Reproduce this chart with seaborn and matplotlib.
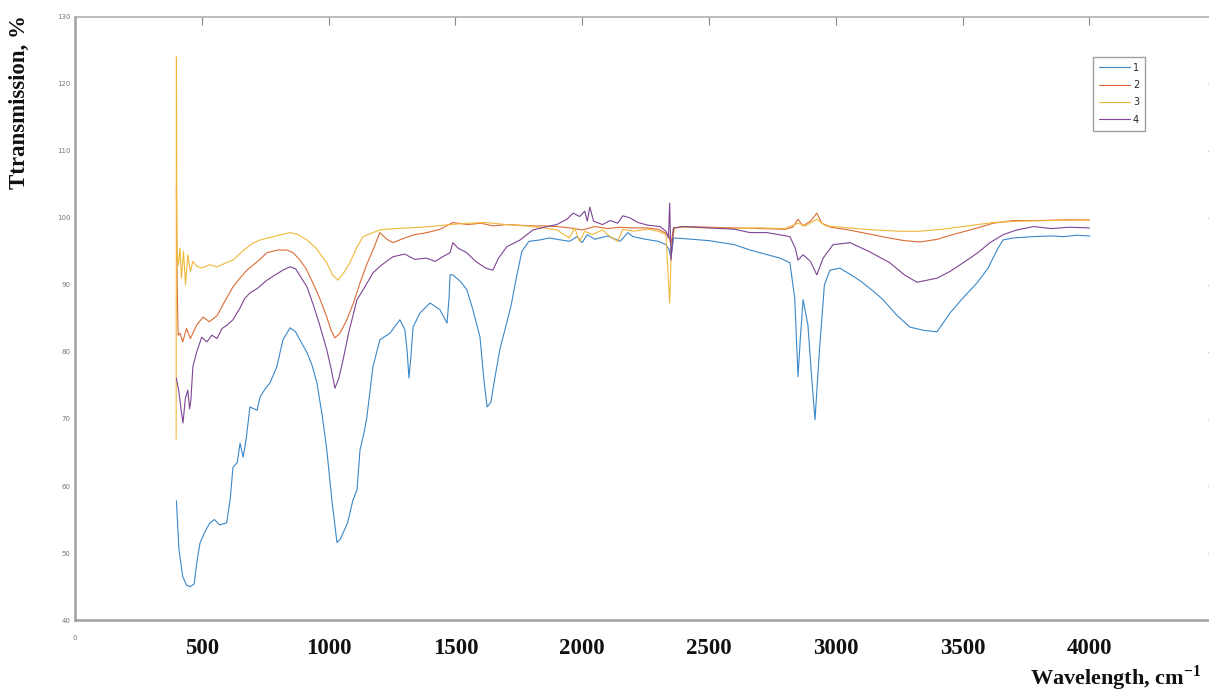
import pandas as pd
import seaborn as sns
import matplotlib.pyplot as plt

# sample 1 (blue)
wn_1 = [400, 410, 425, 440, 455, 470, 480, 493, 510, 532, 550, 570, 598, 612, 623, 640, 651, 663,
        675, 690, 718, 730, 750, 769, 796, 820, 848, 870, 887, 915, 935, 954, 975, 993, 1013, 1033,
        1045, 1057, 1075, 1096, 1112, 1124, 1140, 1151, 1175, 1202, 1242, 1281, 1301, 1310, 1317,
        1325, 1333, 1360, 1400, 1439, 1467, 1475, 1479, 1490, 1520, 1545, 1569, 1597, 1612, 1625,
        1640, 1655, 1676, 1700, 1720, 1740, 1762, 1790, 1833, 1870, 1900, 1950, 1980, 2000, 2020,
        2050, 2100, 2150, 2180, 2200, 2250, 2300, 2330, 2342, 2350, 2360, 2400, 2500, 2600, 2662,
        2720, 2780, 2819, 2838, 2851, 2860, 2871, 2890, 2905, 2918, 2935, 2955, 2977, 3016, 3060,
        3100, 3150, 3186, 3240, 3292, 3350, 3399, 3450, 3500, 3557, 3600, 3640, 3659, 3700, 3777,
        3850, 3900, 3950, 4002]
t_1 = [57.8, 50.5, 46.5, 45.2, 45.0, 45.4, 48.5, 51.5, 53.0, 54.5, 55.0, 54.2, 54.5, 58.0, 62.8, 63.5,
       66.4, 64.3, 67.0, 71.8, 71.3, 73.3, 74.5, 75.4, 77.8, 81.8, 83.6, 83.0, 81.8, 79.9, 78.0, 75.4,
       70.5, 65.4, 57.9, 51.6, 52.0, 53.0, 54.5, 57.9, 59.4, 65.4, 68.0, 70.3, 77.8, 81.8, 82.8, 84.8,
       83.3, 80.0, 76.1, 79.5, 83.7, 85.8, 87.3, 86.3, 84.3, 88.0, 91.5, 91.5, 90.5, 89.3, 86.3, 82.2,
       76.0, 71.8, 72.5, 76.0, 80.5, 84.0, 87.0, 91.0, 95.0, 96.5, 96.7, 97.0, 96.8, 96.5, 97.2, 96.3,
       97.5, 96.8, 97.3, 96.5, 97.8, 97.2, 96.8, 96.5, 96.0, 95.3, 94.0, 97.0, 96.9, 96.6, 96.0, 95.2,
       94.6, 94.0, 93.3, 88.0, 76.3, 82.0, 87.8, 84.0, 76.0, 69.9, 80.0, 90.0, 92.2, 92.5, 91.5, 90.5,
       89.0, 87.8, 85.5, 83.7, 83.2, 83.0, 85.8, 88.0, 90.3, 92.5, 95.5, 96.7, 97.0, 97.2, 97.3, 97.2,
       97.4, 97.3]

# sample 2 (orange)
wn_2 = [400, 403, 407, 414, 425, 440, 455, 465, 480, 505, 530, 560, 590, 623, 650, 678, 720, 757, 800,
        836, 860, 887, 910, 938, 965, 993, 1010, 1025, 1045, 1072, 1100, 1124, 1150, 1175, 1202, 1230,
        1254, 1300, 1340, 1388, 1440, 1490, 1550, 1600, 1650, 1700, 1750, 1800, 1850, 1900, 1950, 2000,
        2050, 2100, 2150, 2200, 2250, 2300, 2340, 2350, 2360, 2400, 2500, 2600, 2700, 2800, 2830, 2851,
        2870, 2900, 2925, 2945, 2980, 3050, 3130, 3210, 3270, 3332, 3400, 3470, 3550, 3620, 3700, 3800,
        3900, 4000]
t_2 = [104.3, 90.0, 82.5, 82.8, 81.5, 83.5, 82.0, 82.8, 84.0, 85.2, 84.5, 85.4, 87.5, 89.7, 91.0, 92.2,
       93.5, 94.8, 95.2, 95.2, 94.8, 93.7, 92.5, 90.3, 88.0, 85.2, 83.2, 82.1, 82.8, 84.8, 87.5, 90.3,
       93.0, 95.2, 97.8, 96.8, 96.3, 97.0, 97.5, 97.8, 98.3, 99.3, 99.0, 99.2, 98.8, 99.0, 98.9, 98.8,
       98.8, 98.7, 98.5, 98.2, 98.7, 98.4, 98.6, 98.5, 98.5, 98.3, 97.5, 96.0, 98.5, 98.7, 98.6, 98.5,
       98.4, 98.3, 98.6, 99.8, 98.8, 99.5, 100.7, 99.2, 98.6, 98.2, 97.6, 97.0, 96.6, 96.4, 96.8, 97.6,
       98.4, 99.2, 99.6, 99.6, 99.7, 99.7]

# sample 3 (yellow)
wn_3 = [399, 400, 402, 408, 414, 420, 428, 436, 445, 455, 465, 480, 500, 530, 560, 590, 623, 660, 700,
        730, 780, 848, 880, 915, 950, 993, 1015, 1037, 1060, 1084, 1110, 1136, 1202, 1260, 1320, 1400,
        1480, 1550, 1620, 1700, 1780, 1850, 1900, 1950, 1970, 1990, 2010, 2040, 2080, 2110, 2140, 2160,
        2200, 2260, 2300, 2330, 2345, 2352, 2365, 2400, 2500, 2600, 2700, 2800, 2851, 2880, 2925, 2960,
        3050, 3150, 3250, 3330, 3420, 3520, 3620, 3720, 3850, 4000]
t_3 = [67.0, 124.0, 95.0, 93.0, 95.5, 91.0, 95.0, 90.0, 94.5, 92.0, 93.5, 92.8, 92.5, 93.0, 92.7, 93.2,
       93.7, 95.0, 96.2, 96.7, 97.2, 97.8, 97.5, 96.7, 95.5, 93.3, 91.5, 90.7, 91.8, 93.3, 95.5, 97.2,
       98.2, 98.4, 98.5, 98.7, 99.0, 99.2, 99.3, 99.0, 98.8, 98.5, 98.2, 97.0, 98.5, 96.5, 98.0, 97.5,
       98.2, 97.2, 96.5, 98.3, 98.0, 98.3, 98.0, 97.5, 87.3, 96.0, 98.5, 98.6, 98.5, 98.4, 98.5, 98.4,
       99.2, 98.8, 99.8, 98.8, 98.5, 98.2, 98.0, 98.0, 98.3, 98.8, 99.3, 99.5, 99.6, 99.7]

# sample 4 (purple)
wn_4 = [400, 410, 420, 426, 435, 445, 452, 457, 465, 480, 500, 520, 540, 560, 580, 600, 623, 650, 670,
        690, 720, 757, 790, 820, 848, 870, 890, 915, 940, 965, 993, 1010, 1025, 1040, 1057, 1080, 1112,
        1140, 1175, 1210, 1254, 1300, 1340, 1385, 1420, 1450, 1479, 1490, 1510, 1545, 1580, 1620, 1648,
        1670, 1703, 1755, 1806, 1850, 1900, 1940, 1964, 1990, 2010, 2020, 2030, 2045, 2080, 2110, 2140,
        2160, 2188, 2220, 2260, 2307, 2330, 2340, 2345, 2350, 2360, 2400, 2500, 2600, 2662, 2728, 2819,
        2840, 2851, 2871, 2900, 2925, 2950, 2989, 3056, 3130, 3213, 3270, 3320, 3399, 3450, 3502, 3560,
        3608, 3660, 3714, 3780, 3850, 3920, 4000]
t_4 = [76.1, 74.0, 71.0, 69.4, 73.0, 74.3, 71.5, 72.8, 77.8, 80.0, 82.2, 81.5, 82.5, 82.0, 83.5, 84.0,
       84.8, 86.5, 88.0, 88.8, 89.5, 90.7, 91.5, 92.2, 92.7, 92.4, 91.2, 89.7, 87.0, 84.0, 80.3, 77.5,
       74.6, 76.0, 78.8, 83.0, 87.8, 89.5, 91.8, 93.0, 94.2, 94.6, 93.8, 94.0, 93.5, 94.2, 94.8, 96.3,
       95.5, 94.8, 93.5, 92.5, 92.2, 94.0, 95.7, 96.7, 98.2, 98.6, 99.0, 99.8, 100.7, 100.2, 101.0, 99.5,
       101.6, 99.5, 99.0, 99.6, 99.2, 100.3, 100.0, 99.3, 98.9, 98.7, 98.0, 97.0, 102.2, 93.7, 98.5,
       98.7, 98.5, 98.3, 97.8, 97.8, 97.2, 95.5, 93.7, 94.5, 93.5, 91.5, 94.0, 96.0, 96.3, 95.0, 93.3,
       91.5, 90.4, 91.0, 92.0, 93.3, 94.8, 96.3, 97.5, 98.2, 98.7, 98.4, 98.6, 98.5]

labels = ['1', '2', '3', '4']
colors = ['#3a87c8', '#db6c35', '#efb83a', '#7d4594']
x_ticks = [500, 1000, 1500, 2000, 2500, 3000, 3500, 4000]
y_ticks = [40, 50, 60, 70, 80, 90, 100, 110, 120, 130]

frames = []
for lab, wn, t in zip(labels, [wn_1, wn_2, wn_3, wn_4], [t_1, t_2, t_3, t_4]):
    frames.append(pd.DataFrame({'wavenumber': wn, 'T': t, 'sample': lab}))
df = pd.concat(frames, ignore_index=True)

sns.set_style('white')
plt.rcParams['font.family'] = ['Liberation Serif', 'DejaVu Serif']
plt.rcParams['mathtext.fontset'] = 'custom'
plt.rcParams['mathtext.rm'] = 'Liberation Serif:bold'
plt.rcParams['mathtext.bf'] = 'Liberation Serif:bold'

fig = plt.figure(figsize=(12.09, 6.96), dpi=100)
ax = fig.add_axes([0.062, 0.109, 0.944, 0.867])

sns.lineplot(data=df, x='wavenumber', y='T', hue='sample', hue_order=labels, palette=colors,
             estimator=None, sort=False, linewidth=0.8, ax=ax, legend=False)

ax.set_xlim(0, 4500)
ax.set_ylim(40, 130)
ax.set_xlabel('')
ax.set_ylabel('')

ax.set_yticks(y_ticks)
ax.set_yticklabels([str(v) for v in y_ticks], fontsize=5, color='#777777', family='DejaVu Sans')
ax.set_xticks(x_ticks)
ax.set_xticklabels([str(v) for v in x_ticks], fontsize=16.5, fontweight='bold', color='#111111')
ax.tick_params(axis='both', direction='in', length=6, width=0.8, color='#888888',
               top=True, right=True)
ax.tick_params(axis='x', pad=13)
ax.tick_params(axis='y', pad=3)
ax.text(0, -0.025, '0', transform=ax.get_xaxis_transform(), ha='center', va='top',
        fontsize=5, color='#777777', family='DejaVu Sans')

for side in ['left', 'bottom']:
    ax.spines[side].set_color('#a0a0a0')
    ax.spines[side].set_linewidth(1.8)
for side in ['top', 'right']:
    ax.spines[side].set_color('#b0b0b0')
    ax.spines[side].set_linewidth(1.2)

# legend built from the plotted lines so the swatches match exactly
lines = ax.get_lines()[:4]
leg = ax.legend(lines, labels, loc='upper right', bbox_to_anchor=(0.951, 0.925),
                bbox_transform=fig.transFigure, handlelength=3.2, labelspacing=0.75,
                borderpad=0.6, handletextpad=0.3, frameon=True, fancybox=False,
                prop={'family': 'DejaVu Sans', 'size': 7})
leg.get_frame().set_edgecolor('#888888')
leg.get_frame().set_linewidth(1.0)

fig.text(0.016, 0.853, 'Ttransmission, %', rotation=90, ha='center', va='center',
         fontsize=16.5, fontweight='bold', color='#111111')
fig.text(0.994, 0.004, r'Wavelength, cm$^{-1}$', ha='right', va='bottom',
         fontsize=16, fontweight='bold', color='#111111')

fig.savefig('out.png', dpi=100, facecolor='white')
